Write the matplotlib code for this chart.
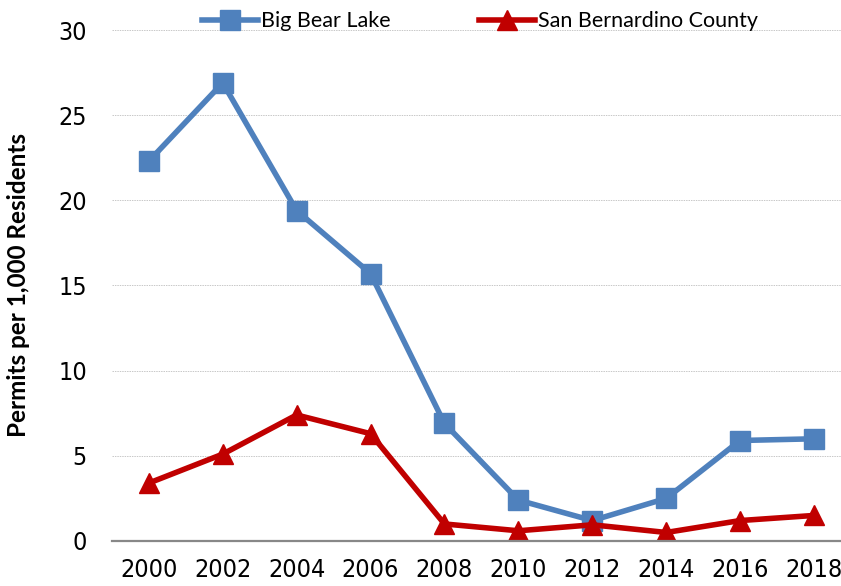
import numpy as np
import matplotlib.pyplot as plt

years = ['2000', '2002', '2004', '2006', '2008', '2010', '2012', '2014', '2016', '2018']
big_bear = [22.3, 26.9, 19.4, 15.7, 6.9, 2.4, 1.2, 2.5, 5.9, 6.0]
san_bern = [3.4, 5.1, 7.4, 6.3, 1.0, 0.6, 0.95, 0.5, 1.2, 1.5]

blue = '#4F81BD'
red = '#C00000'

fig = plt.figure(figsize=(8.41, 5.86), dpi=100)
ax = fig.add_axes([0.133, 0.0768, 0.867, 0.872])

x = np.arange(len(years))
ax.plot(x, big_bear, color=blue, linewidth=4, marker='s', markersize=14.5,
        label='Big Bear Lake')
ax.plot(x, san_bern, color=red, linewidth=4, marker='^', markersize=15,
        label='San Bernardino County')

ax.set_ylim(0, 30)
ax.set_xlim(-0.5, 9.365)
ax.set_yticks(np.arange(0, 31, 5))
ax.set_xticks(x)
ax.set_xticklabels(years)

for lab in ax.get_xticklabels() + ax.get_yticklabels():
    lab.set_family(['Liberation Sans Narrow', 'DejaVu Sans'])
    lab.set_stretch('condensed')
    lab.set_fontsize(18)

ax.tick_params(axis='both', length=0)
ax.tick_params(axis='x', pad=12)
ax.tick_params(axis='y', pad=18)

ax.grid(axis='y', color='#C8C8C8', linestyle=(0, (1.5, 1)), linewidth=0.7)
ax.set_axisbelow(True)
for s in ['top', 'right', 'left']:
    ax.spines[s].set_visible(False)
ax.spines['bottom'].set_color('#888888')
ax.spines['bottom'].set_linewidth(1.6)

ax.set_ylabel('Permits per 1,000 Residents', fontsize=17.5, fontweight='bold',
              family=['Lato', 'DejaVu Sans'])
ax.yaxis.set_label_coords(-0.112, 0.5)

ax.legend(loc='upper center', bbox_to_anchor=(0.505, 1.075), ncol=2, frameon=False,
          prop={'family': ['Lato', 'DejaVu Sans'], 'size': 15.5},
          handlelength=2.6, columnspacing=4.1, handletextpad=0.15)

fig.savefig('out.png', dpi=100)
